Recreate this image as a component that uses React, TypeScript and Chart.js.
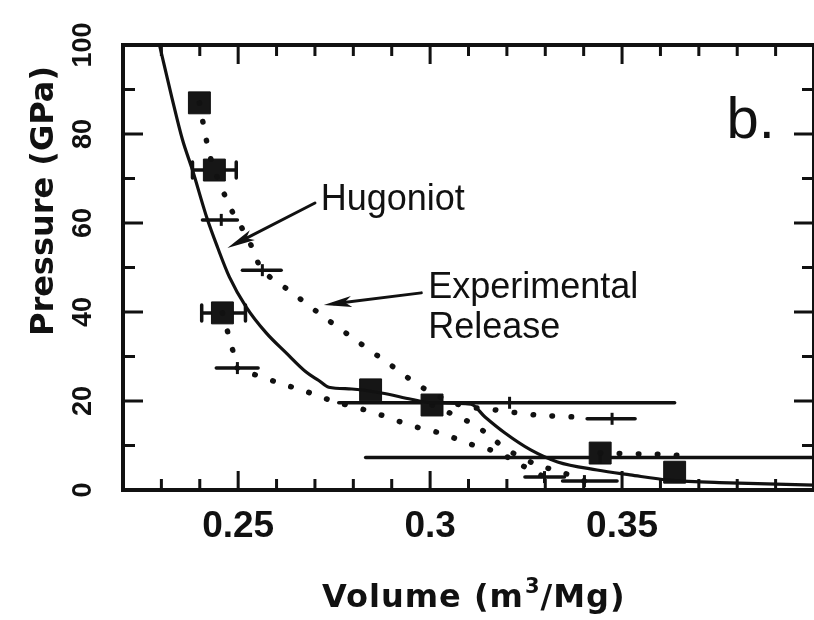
import React, { useEffect, useRef } from 'react';
import { Chart, registerables } from 'chart.js';

Chart.register(...registerables);

// ---- Hugoniot (solid curve) ----
const hugoniotVolume = [0.2295, 0.2327, 0.2355, 0.2381, 0.2418, 0.2446, 0.2477, 0.2521, 0.2573, 0.2625, 0.2677, 0.2710, 0.2736, 0.2796, 0.2873, 0.2951, 0.3003, 0.3106, 0.3143, 0.3195, 0.3262, 0.3332, 0.3435, 0.3521, 0.3624, 0.3780, 0.4000];
const hugoniotPressure = [100, 88.3, 78.7, 71.9, 61.3, 54.6, 47.9, 41.1, 35.3, 30.8, 26.5, 24.6, 23.1, 22.7, 21.8, 20.4, 19.6, 19.3, 16.4, 12.8, 9.0, 6.3, 4.5, 3.4, 2.2, 1.6, 1.1];

// ---- Shock states (filled squares) ----
const shockVolume = [0.2399, 0.2438, 0.2459, 0.2845, 0.3005, 0.3443, 0.3637];
const shockPressure = [87.0, 71.9, 39.8, 22.5, 19.1, 8.3, 4.0];
const shockVolumeLow = [null, 0.2381, 0.2405, null, null, null, null];
const shockVolumeHigh = [null, 0.2495, 0.2519, null, null, null, null];

// ---- Release states (crosses with volume error bars) ----
const releaseVolume = [0.2456, 0.2563, 0.2498, 0.3474, 0.3207, 0.3443, 0.3298, 0.3402];
const releasePressure = [60.7, 49.4, 27.4, 16.0, 19.6, 7.3, 2.9, 2.0];
const releaseVolumeLow = [0.2407, 0.2511, 0.2443, 0.3409, 0.2762, 0.2832, 0.3247, 0.3345];
const releaseVolumeHigh = [0.2498, 0.2612, 0.2552, 0.3534, 0.3637, 0.4100, 0.3350, 0.3487];

// ---- Experimental release paths (dotted) ----
const releaseAVolume = [0.2399, 0.2420, 0.2438, 0.2485, 0.2511, 0.2537, 0.2563, 0.2638, 0.2723, 0.2806, 0.2897, 0.2982, 0.3078, 0.3169, 0.3272, 0.3378, 0.3409];
const releaseAPressure = [87.0, 77.5, 71.9, 62.5, 58.7, 54.4, 49.4, 44.5, 38.9, 33.7, 28.1, 22.9, 19.1, 18.0, 16.9, 16.4, 16.2];
const releaseBVolume = [0.2459, 0.2490, 0.2498, 0.2563, 0.2614, 0.2666, 0.2715, 0.2762, 0.2822, 0.2871, 0.2923, 0.2974, 0.3026, 0.3078, 0.3125, 0.3176, 0.3240, 0.3298];
const releaseBPressure = [39.8, 30.1, 27.4, 25.4, 23.8, 22.5, 20.9, 19.6, 18.2, 16.9, 15.3, 13.9, 12.8, 11.2, 9.7, 8.5, 5.5, 2.9];
const releaseCVolume = [0.3005, 0.3117, 0.3158, 0.3202, 0.3280, 0.3332, 0.3384, 0.3402];
const releaseCPressure = [19.1, 14.6, 11.9, 9.0, 5.6, 4.3, 2.7, 2.0];
const releaseDVolume = [0.3443, 0.3495, 0.3552, 0.3604, 0.3660];
const releaseDPressure = [8.3, 8.2, 8.1, 8.0, 7.7];

// ---- Axes ----
const xMin = 0.22;
const xMax = 0.40;
const yMin = 0;
const yMax = 100;
const xTickValues = [0.23, 0.24, 0.25, 0.26, 0.27, 0.28, 0.29, 0.3, 0.31, 0.32, 0.33, 0.34, 0.35, 0.36, 0.37, 0.38, 0.39];
const xMajorTicks = [0.25, 0.3, 0.35];
const xTickLabels = ['0.25', '0.3', '0.35'];
const yTickValues = [10, 20, 30, 40, 50, 60, 70, 80, 90];
const yMajorTicks = [0, 20, 40, 60, 80, 100];
const yTickLabels = ['0', '20', '40', '60', '80', '100'];
const xTitleParts = ['Volume (m', '3', '/Mg)'];
const yTitle = 'Pressure (GPa)';

// ---- Annotations (data coordinates) ----
const annotationTexts = ['Hugoniot', 'Experimental', 'Release', 'b.'];
const annotationX = [0.2715, 0.2995, 0.2995, 0.3772];
const annotationY = [62.9, 43.1, 34.2, 79.1];
const arrowFromX = [0.2700, 0.2977];
const arrowFromY = [64.5, 44.3];
const arrowToX = [0.2472, 0.2723];
const arrowToY = [54.4, 41.6];

const INK = '#111111';
const SANS = '"Liberation Sans", Arial, Helvetica, sans-serif';
const GEO = '"DejaVu Sans", "Liberation Sans", sans-serif';

const toPoints = (xs: number[], ys: number[]) => xs.map((x, i) => ({ x, y: ys[i] }));

function drawArrow(ctx: CanvasRenderingContext2D, x1: number, y1: number, x2: number, y2: number) {
  const ang = Math.atan2(y2 - y1, x2 - x1);
  const c = Math.cos(ang);
  const s = Math.sin(ang);
  ctx.beginPath();
  ctx.moveTo(x1, y1);
  ctx.lineTo(x2 - 10 * c, y2 - 10 * s);
  ctx.stroke();
  const L = 28;
  const W = 5.5;
  ctx.beginPath();
  ctx.moveTo(x2, y2);
  ctx.lineTo(x2 - L * c - W * s, y2 - L * s + W * c);
  ctx.lineTo(x2 - L * 0.75 * c, y2 - L * 0.75 * s);
  ctx.lineTo(x2 - L * c + W * s, y2 - L * s - W * c);
  ctx.closePath();
  ctx.fill();
}

const decorPlugin = {
  id: 'decor',
  beforeDatasetsDraw(chart: any) {
    const ctx: CanvasRenderingContext2D = chart.ctx;
    const xs = chart.scales.x;
    const ys = chart.scales.y;
    ctx.save();
    ctx.strokeStyle = INK;
    ctx.lineCap = 'round';
    ctx.lineWidth = 3.5;
    releaseVolume.forEach((_, i) => {
      const py = ys.getPixelForValue(releasePressure[i]);
      ctx.beginPath();
      ctx.moveTo(xs.getPixelForValue(releaseVolumeLow[i]), py);
      ctx.lineTo(xs.getPixelForValue(releaseVolumeHigh[i]), py);
      ctx.stroke();
    });
    shockVolume.forEach((_, i) => {
      const lo = shockVolumeLow[i];
      const hi = shockVolumeHigh[i];
      if (lo == null || hi == null) return;
      const py = ys.getPixelForValue(shockPressure[i]);
      const a = xs.getPixelForValue(lo);
      const b = xs.getPixelForValue(hi);
      ctx.beginPath();
      ctx.moveTo(a, py);
      ctx.lineTo(b, py);
      ctx.moveTo(a, py - 8);
      ctx.lineTo(a, py + 8);
      ctx.moveTo(b, py - 8);
      ctx.lineTo(b, py + 8);
      ctx.stroke();
    });
    ctx.restore();
  },
  afterDatasetsDraw(chart: any) {
    const ctx: CanvasRenderingContext2D = chart.ctx;
    const xs = chart.scales.x;
    const ys = chart.scales.y;
    const { left, right, top, bottom } = chart.chartArea;
    ctx.save();
    ctx.strokeStyle = INK;
    ctx.fillStyle = INK;
    ctx.lineCap = 'butt';

    // frame
    ctx.lineWidth = 4;
    ctx.strokeRect(left, top, right - left, bottom - top);

    // inward ticks
    ctx.lineWidth = 3;
    xTickValues.forEach((v) => {
      const px = xs.getPixelForValue(v);
      const major = xMajorTicks.some((m) => Math.abs(m - v) < 1e-6);
      const len = major ? 19 : 11;
      ctx.beginPath();
      ctx.moveTo(px, bottom);
      ctx.lineTo(px, bottom - len);
      ctx.moveTo(px, top);
      ctx.lineTo(px, top + len);
      ctx.stroke();
    });
    yTickValues.forEach((v) => {
      const py = ys.getPixelForValue(v);
      const major = yMajorTicks.includes(v);
      const len = major ? 20 : 12;
      ctx.beginPath();
      ctx.moveTo(left, py);
      ctx.lineTo(left + len, py);
      ctx.moveTo(right, py);
      ctx.lineTo(right - len, py);
      ctx.stroke();
    });

    // x tick labels
    ctx.font = `bold 37px ${SANS}`;
    ctx.textAlign = 'center';
    ctx.textBaseline = 'alphabetic';
    xMajorTicks.forEach((v, i) => {
      ctx.fillText(xTickLabels[i], xs.getPixelForValue(v), bottom + 47);
    });

    // y tick labels (rotated)
    const ySize = 27;
    ctx.font = `bold ${ySize}px ${SANS}`;
    yMajorTicks.forEach((v, i) => {
      ctx.save();
      ctx.translate(left - 42, ys.getPixelForValue(v));
      ctx.rotate(-Math.PI / 2);
      ctx.textAlign = 'center';
      ctx.fillText(yTickLabels[i], 0, ySize * 0.358);
      ctx.restore();
    });

    // x title with superscript
    (ctx as any).letterSpacing = '1px';
    ctx.textAlign = 'left';
    let tx = left + 199;
    const ty = bottom + 117;
    ctx.font = `bold 32px ${GEO}`;
    ctx.fillText(xTitleParts[0], tx, ty);
    tx += ctx.measureText(xTitleParts[0]).width;
    ctx.font = `bold 21px ${GEO}`;
    ctx.fillText(xTitleParts[1], tx + 1, ty - 14);
    tx += ctx.measureText(xTitleParts[1]).width + 1;
    ctx.font = `bold 32px ${GEO}`;
    ctx.fillText(xTitleParts[2], tx, ty);

    // y title (rotated)
    (ctx as any).letterSpacing = '0px';
    ctx.save();
    ctx.translate(41, top + 156);
    ctx.rotate(-Math.PI / 2);
    ctx.textAlign = 'center';
    ctx.font = `bold 32px ${GEO}`;
    ctx.fillText(yTitle, 0, 32 * 0.36);
    ctx.restore();

    // annotations
    ctx.textAlign = 'left';
    annotationTexts.forEach((t, i) => {
      ctx.font = t === 'b.' ? `58px ${SANS}` : `36px ${SANS}`;
      ctx.fillText(t, xs.getPixelForValue(annotationX[i]), ys.getPixelForValue(annotationY[i]));
    });

    // arrows
    ctx.lineWidth = 3;
    ctx.lineCap = 'round';
    arrowFromX.forEach((_, i) => {
      drawArrow(
        ctx,
        xs.getPixelForValue(arrowFromX[i]),
        ys.getPixelForValue(arrowFromY[i]),
        xs.getPixelForValue(arrowToX[i]),
        ys.getPixelForValue(arrowToY[i])
      );
    });
    ctx.restore();
  },
};

const dotted = (xs: number[], ys: number[]) => ({
  type: 'line' as const,
  data: toPoints(xs, ys),
  borderColor: INK,
  borderWidth: 5.5,
  borderDash: [0.5, 18.5],
  borderCapStyle: 'round' as const,
  pointRadius: 0,
  fill: false,
  tension: 0.3,
});

export default function App() {
  const canvasRef = useRef<HTMLCanvasElement | null>(null);

  useEffect(() => {
    if (!canvasRef.current) return;
    const chart = new Chart(canvasRef.current, {
      type: 'line',
      data: {
        datasets: [
          {
            type: 'line',
            data: toPoints(hugoniotVolume, hugoniotPressure),
            borderColor: INK,
            borderWidth: 3.2,
            pointRadius: 0,
            fill: false,
            cubicInterpolationMode: 'monotone',
          } as any,
          dotted(releaseAVolume, releaseAPressure),
          dotted(releaseBVolume, releaseBPressure),
          dotted(releaseCVolume, releaseCPressure),
          dotted(releaseDVolume, releaseDPressure),
          {
            type: 'line',
            data: toPoints(releaseVolume, releasePressure),
            showLine: false,
            pointStyle: 'line',
            rotation: 90,
            pointRadius: 6,
            borderWidth: 3,
            borderColor: INK,
            backgroundColor: INK,
          } as any,
          {
            type: 'line',
            data: toPoints(shockVolume, shockPressure),
            showLine: false,
            pointStyle: 'rect',
            pointRadius: 15.5,
            borderWidth: 1,
            borderColor: INK,
            backgroundColor: '#161616',
          } as any,
        ],
      },
      options: {
        animation: false,
        responsive: false,
        devicePixelRatio: 1,
        layout: { autoPadding: false, padding: { left: 123, right: -4, top: 45, bottom: 130 } },
        plugins: { legend: { display: false }, tooltip: { enabled: false } },
        scales: {
          x: { type: 'linear', min: xMin, max: xMax, display: false },
          y: { type: 'linear', min: yMin, max: yMax, display: false },
        },
      },
      plugins: [decorPlugin],
    });
    return () => chart.destroy();
  }, []);

  return (
    <div style={{ position: 'absolute', left: 0, top: 0, width: 814, height: 620, background: '#ffffff' }}>
      <canvas ref={canvasRef} width={814} height={620} style={{ width: 814, height: 620, display: 'block' }} />
    </div>
  );
}
